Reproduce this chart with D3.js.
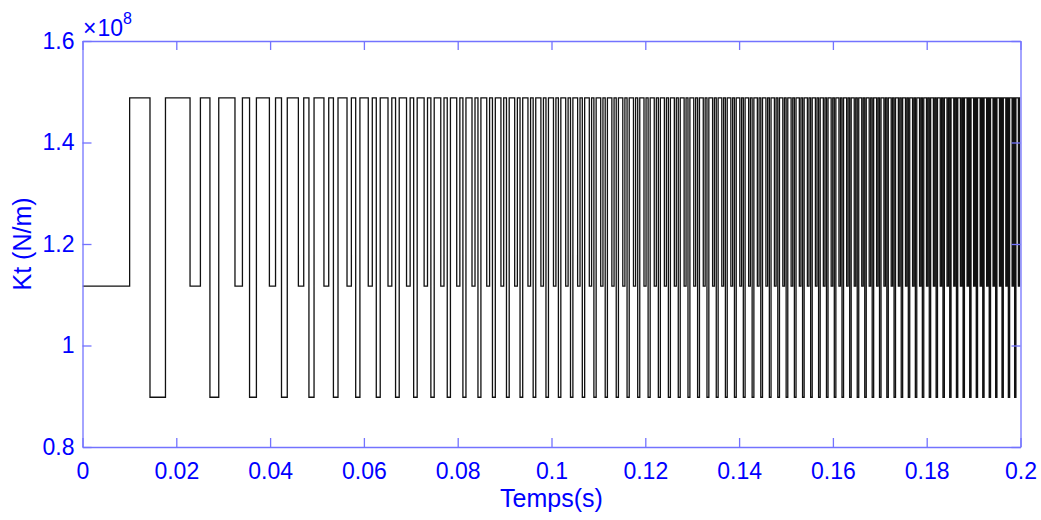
<!DOCTYPE html>
<html>
<head>
<meta charset="utf-8">
<script src="https://cdn.jsdelivr.net/npm/d3@7"></script>
<style>
    body { margin: 0; background: #fff; }
    text { font-family: "Liberation Sans", Arial, sans-serif; }
</style>
</head>
<body>
<div id="div-chart"></div>
<script>
// times in ms, stiffness in 1e8 N/m
var levelHigh = 1.488;
var levelMid = 1.117;
var levelLow = 0.898;
var firstRise = 10.05;
var endTime = 200;

var lowDipStart = [
    14.39, 27.17, 35.62, 42.43, 48.28, 53.50, 58.25, 62.64, 66.75, 70.61,
    74.28, 77.77, 81.11, 84.32, 87.41, 90.40, 93.29, 96.09, 98.82, 101.47,
    104.05, 106.57, 109.04, 111.45, 113.80, 116.11, 118.38, 120.60, 122.78, 124.92,
    127.03, 129.10, 131.15, 133.15, 135.13, 137.08, 139.01, 140.90, 142.78, 144.62,
    146.45, 148.25, 150.03, 151.79, 153.53, 155.25, 156.95, 158.63, 160.30, 161.94,
    163.58, 165.19, 166.79, 168.38, 169.94, 171.50, 173.04, 174.57, 176.08, 177.58,
    179.07, 180.55, 182.01, 183.47, 184.91, 186.34, 187.76, 189.17, 190.57, 191.95,
    193.33, 194.70, 196.06, 197.41, 198.75
];
var lowDipEnd = [
    17.69, 29.05, 37.08, 43.66, 49.37, 54.48, 59.15, 63.48, 67.53, 71.36,
    74.99, 78.45, 81.76, 84.95, 88.02, 90.98, 93.86, 96.64, 99.35, 101.99,
    104.56, 107.07, 109.52, 111.92, 114.27, 116.57, 118.82, 121.04, 123.21, 125.35,
    127.45, 129.51, 131.55, 133.55, 135.53, 137.47, 139.39, 141.28, 143.15, 144.99,
    146.81, 148.61, 150.38, 152.14, 153.87, 155.59, 157.29, 158.96, 160.63, 162.27,
    163.90, 165.51, 167.11, 168.69, 170.26, 171.81, 173.35, 174.87, 176.38, 177.88,
    179.37, 180.84, 182.30, 183.76, 185.19, 186.62, 188.04, 189.45, 190.84, 192.23,
    193.61, 194.97, 196.33, 197.68, 199.02
];
var midDipStart = [
    22.93, 32.51, 39.85, 46.03, 51.48, 56.40, 60.93, 65.14, 69.09, 72.84,
    76.39, 79.79, 83.05, 86.19, 89.22, 92.15, 94.98, 97.74, 100.42, 103.03,
    105.57, 108.06, 110.49, 112.87, 115.20, 117.48, 119.72, 121.91, 124.07, 126.19,
    128.28, 130.33, 132.36, 134.35, 136.31, 138.24, 140.15, 142.03, 143.89, 145.72,
    147.53, 149.32, 151.09, 152.84, 154.56, 156.27, 157.96, 159.63, 161.29, 162.93,
    164.55, 166.15, 167.74, 169.32, 170.88, 172.43, 173.96, 175.48, 176.99, 178.48,
    179.96, 181.43, 182.89, 184.33, 185.77, 187.19, 188.61, 190.01, 191.40, 192.78,
    194.15, 195.52, 196.87, 198.21, 199.55
];
var midDipEnd = [
    25.14, 34.10, 41.16, 47.17, 52.50, 57.33, 61.79, 65.95, 69.86, 73.56,
    77.08, 80.46, 83.69, 86.80, 89.81, 92.72, 95.54, 98.28, 100.94, 103.54,
    106.08, 108.55, 110.97, 113.34, 115.65, 117.93, 120.16, 122.35, 124.50, 126.61,
    128.69, 130.74, 132.76, 134.74, 136.70, 138.63, 140.53, 142.40, 144.26, 146.09,
    147.89, 149.68, 151.44, 153.18, 154.90, 156.61, 158.30, 159.97, 161.62, 163.25,
    164.87, 166.47, 168.06, 169.63, 171.19, 172.73, 174.26, 175.78, 177.29, 178.78,
    180.25, 181.72, 183.18, 184.62, 186.05, 187.48, 188.89, 190.29, 191.68, 193.06,
    194.43, 195.79, 197.14, 198.48, 199.82
];

var xTicks = [0, 0.02, 0.04, 0.06, 0.08, 0.1, 0.12, 0.14, 0.16, 0.18, 0.2];
var xTickLabels = ["0", "0.02", "0.04", "0.06", "0.08", "0.1", "0.12", "0.14", "0.16", "0.18", "0.2"];
var yTicks = [0.8, 1, 1.2, 1.4, 1.6];
var yTickLabels = ["0.8", "1", "1.2", "1.4", "1.6"];

var width = 1041, height = 520;
var margin = { top: 41, right: 20.5, bottom: 73, left: 82.5 };
var axisColor = "#7373ff";
var textColor = "#0000ff";

// build the step sequence [t(ms), value]
var points = [[0, levelMid], [firstRise, levelHigh]];
lowDipStart.forEach((d, i) => {
    points.push([d, levelLow]);
    points.push([lowDipEnd[i], levelHigh]);
    points.push([midDipStart[i], levelMid]);
    points.push([midDipEnd[i], levelHigh]);
});
points.push([endTime, levelHigh]);

var x = d3.scaleLinear()
    .domain([0, 0.2])
    .range([margin.left, width - margin.right]);

var y = d3.scaleLinear()
    .domain([0.8, 1.6])
    .range([height - margin.bottom, margin.top]);

var svg = d3.select("#div-chart").append("svg")
    .attr("width", width)
    .attr("height", height);

svg.append("rect")
    .attr("width", width)
    .attr("height", height)
    .attr("fill", "#fff");

svg.append("clipPath")
    .attr("id", "clip")
    .append("rect")
    .attr("x", margin.left)
    .attr("y", margin.top)
    .attr("width", width - margin.left - margin.right)
    .attr("height", height - margin.top - margin.bottom);

var line = d3.line()
    .x(d => x(d[0] / 1000))
    .y(d => y(d[1]))
    .curve(d3.curveStepAfter);

svg.append("path")
    .datum(points)
    .attr("clip-path", "url(#clip)")
    .attr("fill", "none")
    .attr("stroke", "#111")
    .attr("stroke-width", 1.3)
    .attr("d", line);

// axes, ticks inside on all four sides
var tickLen = 9;

var xAxisBottom = g => g
    .attr("transform", `translate(0,${height - margin.bottom})`)
    .call(d3.axisBottom(x)
        .tickValues(xTicks)
        .tickFormat((d, i) => xTickLabels[i])
        .tickSizeInner(-tickLen)
        .tickSizeOuter(0)
        .tickPadding(16));

var xAxisTop = g => g
    .attr("transform", `translate(0,${margin.top})`)
    .call(d3.axisTop(x)
        .tickValues(xTicks)
        .tickFormat("")
        .tickSizeInner(-tickLen)
        .tickSizeOuter(0));

var yAxisLeft = g => g
    .attr("transform", `translate(${margin.left},0)`)
    .call(d3.axisLeft(y)
        .tickValues(yTicks)
        .tickFormat((d, i) => yTickLabels[i])
        .tickSizeInner(-tickLen)
        .tickSizeOuter(0)
        .tickPadding(8));

var yAxisRight = g => g
    .attr("transform", `translate(${width - margin.right},0)`)
    .call(d3.axisRight(y)
        .tickValues(yTicks)
        .tickFormat("")
        .tickSizeInner(-tickLen)
        .tickSizeOuter(0));

[xAxisBottom, xAxisTop, yAxisLeft, yAxisRight].forEach(a => {
    var g = svg.append("g").call(a);
    g.selectAll(".domain").attr("stroke", axisColor).attr("stroke-width", 1.3);
    g.selectAll(".tick line").attr("stroke", axisColor).attr("stroke-width", 1.3);
    g.selectAll(".tick text")
        .attr("fill", textColor)
        .style("font-size", "23px");
});

// axis labels
svg.append("text")
    .attr("x", (margin.left + width - margin.right) / 2)
    .attr("y", 507)
    .attr("text-anchor", "middle")
    .attr("fill", textColor)
    .style("font-size", "25px")
    .text("Temps(s)");

svg.append("text")
    .attr("transform", `translate(31,${(margin.top + height - margin.bottom) / 2}) rotate(-90)`)
    .attr("text-anchor", "middle")
    .attr("fill", textColor)
    .style("font-size", "25px")
    .text("Kt (N/m)");

// exponent label
var expo = svg.append("text")
    .attr("x", 83)
    .attr("y", 36)
    .attr("fill", textColor)
    .style("font-size", "23px");
expo.append("tspan")
    .style("font-weight", "300")
    .text("\u00d7");
expo.append("tspan").attr("dx", 1).text("10");
expo.append("tspan")
    .attr("dy", -12)
    .style("font-size", "16px")
    .text("8");
</script>
</body>
</html>
